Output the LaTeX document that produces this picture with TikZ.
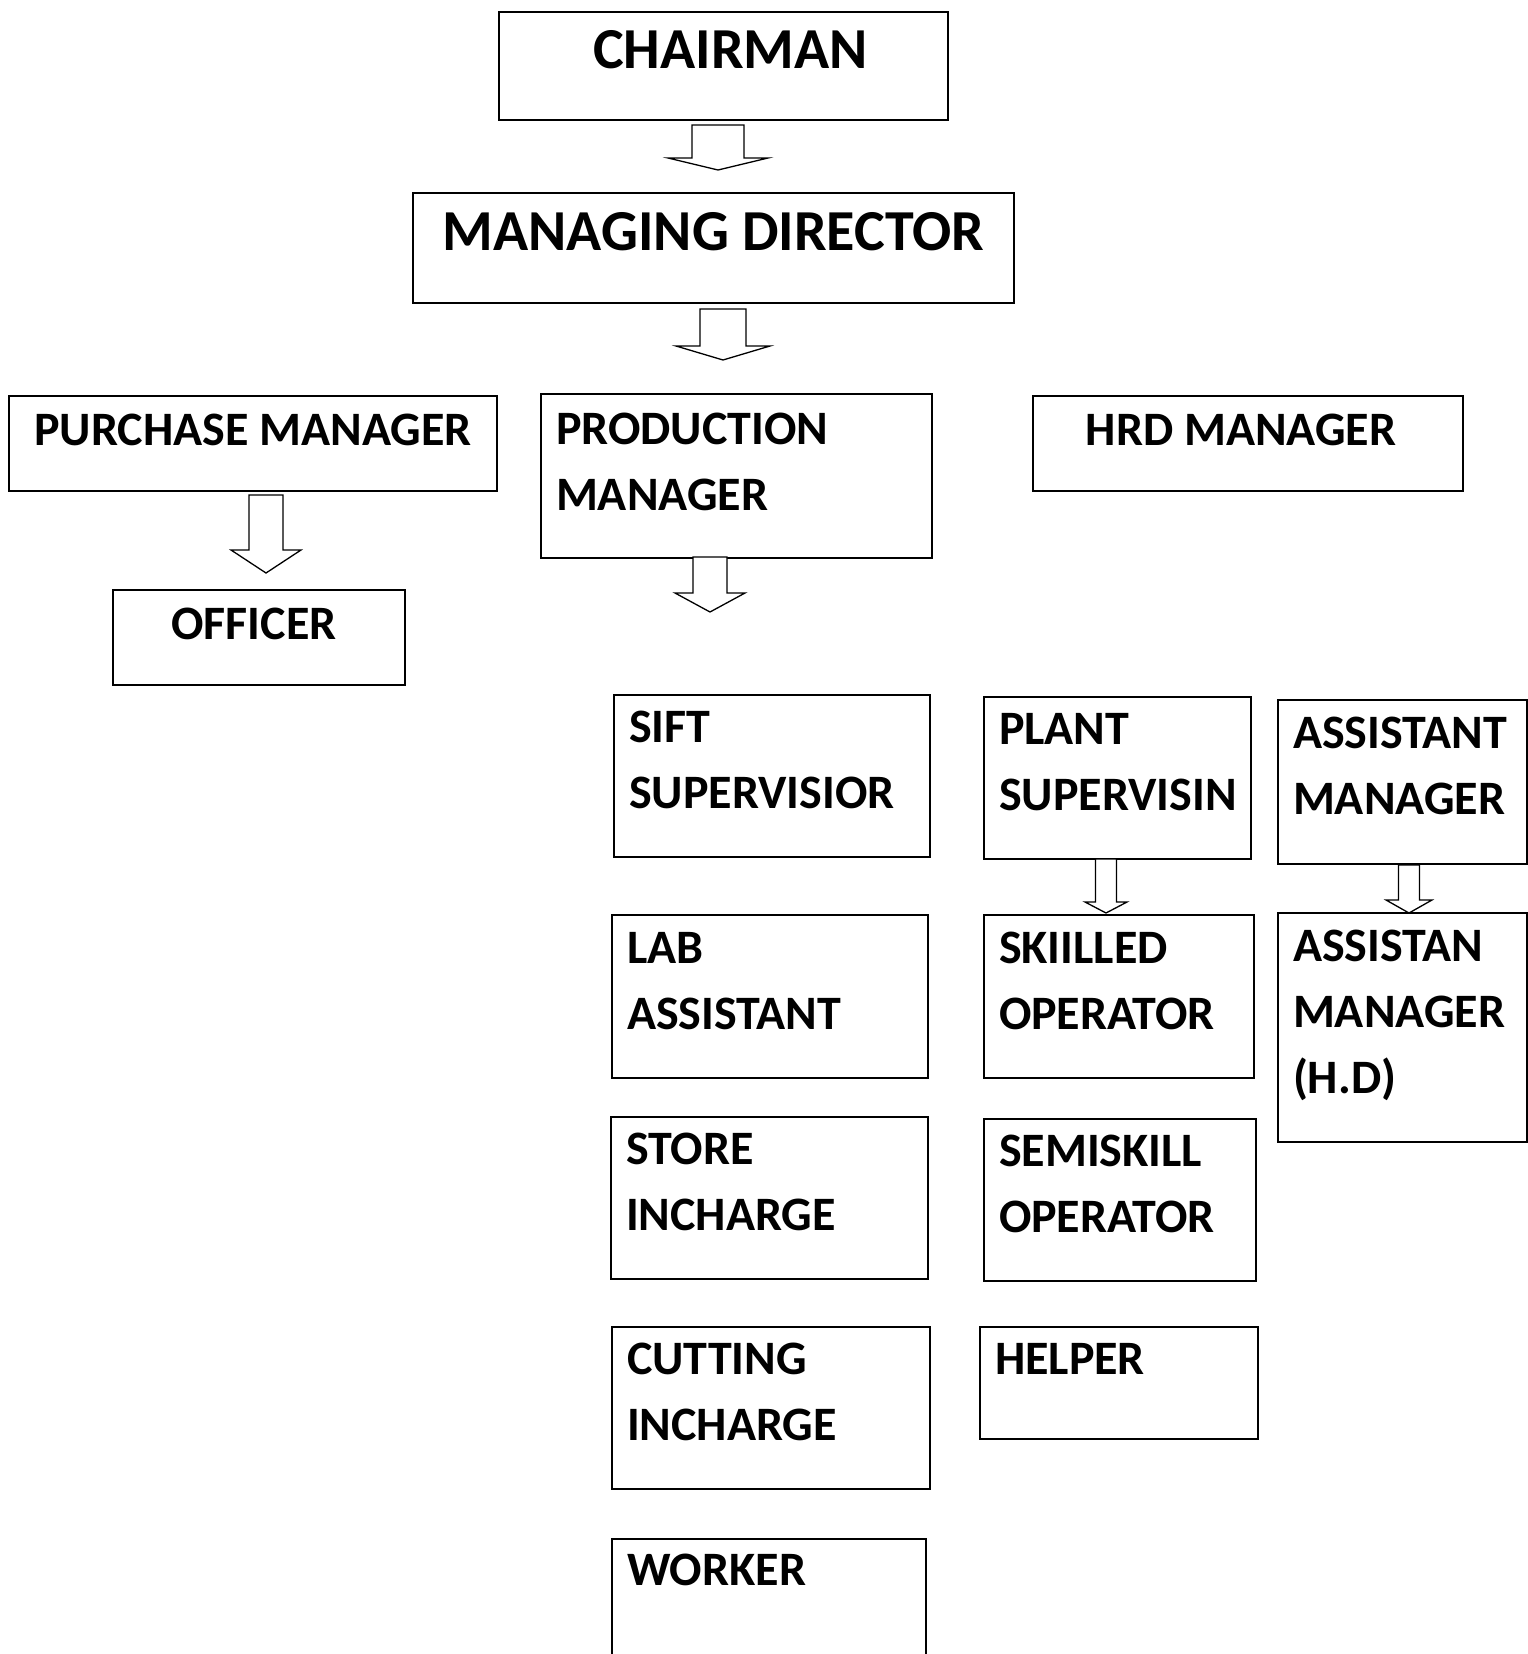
\documentclass[tikz,border=0pt]{standalone}
\usepackage{fontspec}
\setmainfont{Carlito}
\usepackage{tikz}
\usetikzlibrary{positioning, calc}
\hyphenpenalty=10000
\uchyph=0

% hollow block arrow: tail, tip, half shaft, half head, head length
\newcommand{\blockarrow}[5]{%
    \draw[hollowarrow] ($(#1)+(-#3,0)$) -- ($(#2)+(-#3,-#5)$) -- ($(#2)+(-#4,-#5)$)
        -- (#2) -- ($(#2)+(#4,-#5)$) -- ($(#2)+(#3,-#5)$) -- ($(#1)+(#3,0)$) -- cycle;%
}

\begin{document}
\begin{tikzpicture}[x=1pt, y=-1pt,
    box/.style={draw, line width=2pt, anchor=north west, inner xsep=15pt, inner ysep=0pt,
        align=left, font=\bfseries\fontsize{48}{66}\selectfont},
    topbox/.style={box, align=flush center, font=\bfseries\fontsize{58}{66}\selectfont},
    midbox/.style={box, align=flush center},
    hollowarrow/.style={draw, fill=white, line width=1.3pt, line join=miter}]
    \useasboundingbox (0,0) rectangle (1528,1654);

    % Top level
    \node[topbox, text width=419pt, text height=56pt, text depth=52pt] (chair) at (498,11) {\hspace*{14pt}CHAIRMAN};
    \node[topbox, text width=571pt, text height=57pt, text depth=53pt] (md) at (412,192) {MANAGING DIRECTOR};

    % Managers
    \node[midbox, text width=458pt, text height=49pt, text depth=46pt] (purch) at (8,395) {PURCHASE MANAGER};
    \node[midbox, text width=262pt, text height=49pt, text depth=46pt] (officer) at (112,589) {\hspace*{-10pt}OFFICER};
    \node[box, text width=361pt, text height=50pt, text depth=114pt] (prod) at (540,393) {PRODUCTION\\MANAGER};
    \node[midbox, text width=400pt, text height=49pt, text depth=46pt] (hrd) at (1032,395) {\hspace*{-14pt}HRD MANAGER};

    % Production staff, first column
    \node[box, text width=286pt, text height=47pt, text depth=115pt] (sift) at (613,694) {SIFT\\SUPERVISIOR};
    \node[box, text width=286pt, text height=48pt, text depth=115pt] (lab) at (611,914) {LAB\\ASSISTANT};
    \node[box, text width=287pt, text height=47pt, text depth=115pt] (store) at (610,1116) {STORE\\INCHARGE};
    \node[box, text width=288pt, text height=47pt, text depth=115pt] (cut) at (611,1326) {CUTTING\\INCHARGE};
    \node[box, text width=284pt, text height=46pt, text depth=84pt] (worker) at (611,1538) {WORKER};

    % Production staff, second column
    \node[box, text width=237pt, text height=47pt, text depth=115pt] (plant) at (983,696) {PLANT\\SUPERVISIN};
    \node[box, text width=240pt, text height=48pt, text depth=115pt] (skill) at (983,914) {SKIILLED\\OPERATOR};
    \node[box, text width=242pt, text height=47pt, text depth=115pt] (semi) at (983,1118) {SEMISKILL\\OPERATOR};
    \node[box, text width=248pt, text height=47pt, text depth=65pt] (helper) at (979,1326) {HELPER};

    % Production staff, third column
    \node[box, text width=219pt, text height=48pt, text depth=116pt] (asst) at (1277,699) {ASSISTANT\\MANAGER};
    \node[box, text width=219pt, text height=48pt, text depth=181pt] (asthd) at (1277,912) {ASSISTAN\\MANAGER\\(H.D)};

    % Arrow ends
    \coordinate (a1t) at ($(chair.south)+(-5.5,4)$);
    \coordinate (a1h) at ($(a1t |- md.north)+(0,-22)$);
    \coordinate (a2t) at ($(md.south)+(9.5,5)$);
    \coordinate (a2h) at ($(a2t |- prod.north)+(0,-33)$);
    \coordinate (a3t) at ($(purch.south)+(13,3)$);
    \coordinate (a3h) at ($(a3t |- officer.north)+(0,-16)$);
    \coordinate (a4t) at ($(prod.south)+(-26.5,-2)$);
    \coordinate (a4h) at ($(a4t)+(0,55)$);
    \coordinate (a5t) at ($(plant.south)+(-11.5,-1)$);
    \coordinate (a5h) at ($(a5t |- skill.north)+(0,-1)$);
    \coordinate (a6t) at ($(asst.south)+(6.5,0)$);
    \coordinate (a6h) at ($(a6t |- asthd.north)+(0,1)$);

    % Block arrows
    \blockarrow{a1t}{a1h}{26}{50}{12}
    \blockarrow{a2t}{a2h}{23}{47}{14}
    \blockarrow{a3t}{a3h}{17}{35}{23}
    \blockarrow{a4t}{a4h}{17}{35}{19}
    \blockarrow{a5t}{a5h}{10.5}{21}{11}
    \blockarrow{a6t}{a6h}{10.5}{23}{13}
\end{tikzpicture}
\end{document}
